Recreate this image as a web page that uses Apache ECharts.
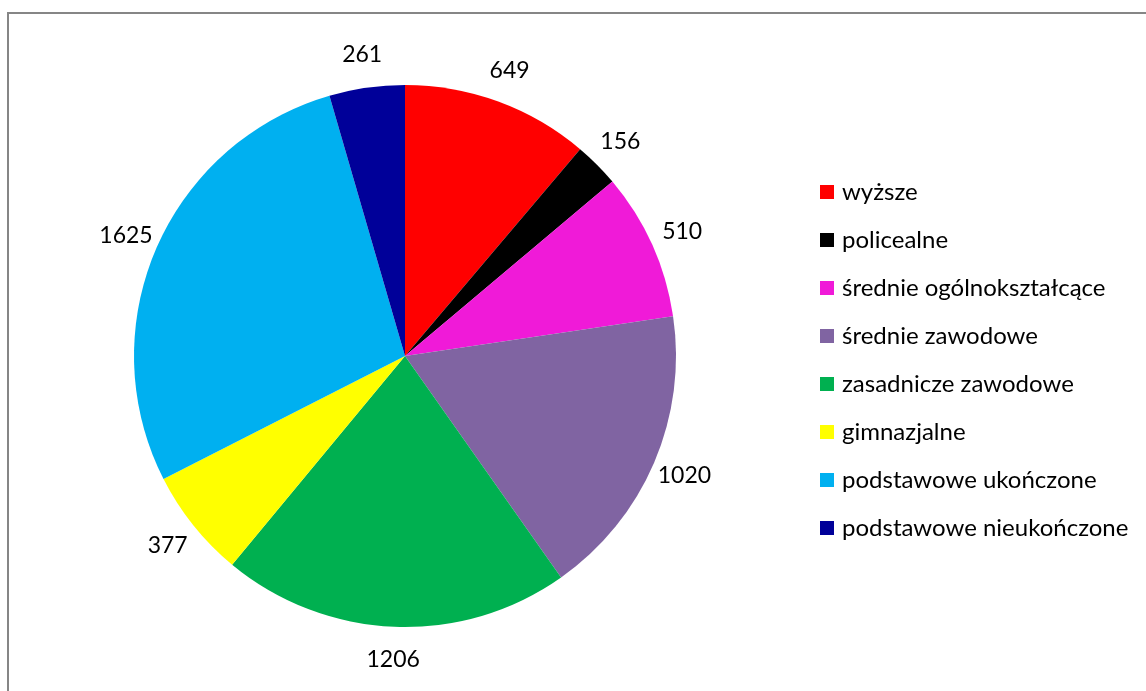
<!DOCTYPE html>
<html><head><meta charset="utf-8">
<script src="https://cdn.jsdelivr.net/npm/echarts@6/dist/echarts.min.js"></script>
<style>html,body{margin:0;padding:0;background:#fff}#c{width:1146px;height:691px}</style>
</head><body><div id="c"></div>
<script>
const categories = ['wyższe','policealne','średnie ogólnokształcące','średnie zawodowe','zasadnicze zawodowe','gimnazjalne','podstawowe ukończone','podstawowe nieukończone'];
const values = [649,156,510,1020,1206,377,1625,261];
const colors = ['#FF0000','#000000','#F01AD8','#8064A2','#00B050','#FFFF00','#00B0F0','#000099'];
const FONT = 'Lato';
const CX = 405, CY = 356, R = 271, LABEL_OFFSET = 33;
const total = values.reduce((a,b)=>a+b,0);
let cum = 0;
const midAngles = values.map(v => { const m = (cum + v/2) / total * 2 * Math.PI; cum += v; return m; });
const chart = echarts.init(document.getElementById('c'));
chart.setOption({
  animation:false,
  color: colors,
  graphic:[{type:'rect',shape:{x:8,y:13,width:1160,height:700},style:{fill:'none',stroke:'#868686',lineWidth:2},silent:true}],
  legend:{
    orient:'vertical', left:815, top:175,
    icon:'rect', itemWidth:14, itemHeight:14, itemGap:24,
    textStyle:{fontFamily:FONT,fontSize:24,color:'#000',lineHeight:24,padding:[0,0,0,3]},
    data:categories
  },
  series:[{
    type:'pie', center:[CX,CY], radius:R, startAngle:90, clockwise:true,
    avoidLabelOverlap:false,
    label:{show:true,position:'outside',formatter:'{c}',fontFamily:FONT,fontSize:23,color:'#000'},
    labelLine:{show:false},
    labelLayout: function(p){
      const m = midAngles[p.dataIndex];
      return {x: CX + Math.sin(m)*(R+LABEL_OFFSET), y: CY - Math.cos(m)*(R+LABEL_OFFSET), align:'center', verticalAlign:'middle'};
    },
    emphasis:{disabled:true},
    data: categories.map((n,i)=>({name:n,value:values[i]}))
  }]
});
</script></body></html>
